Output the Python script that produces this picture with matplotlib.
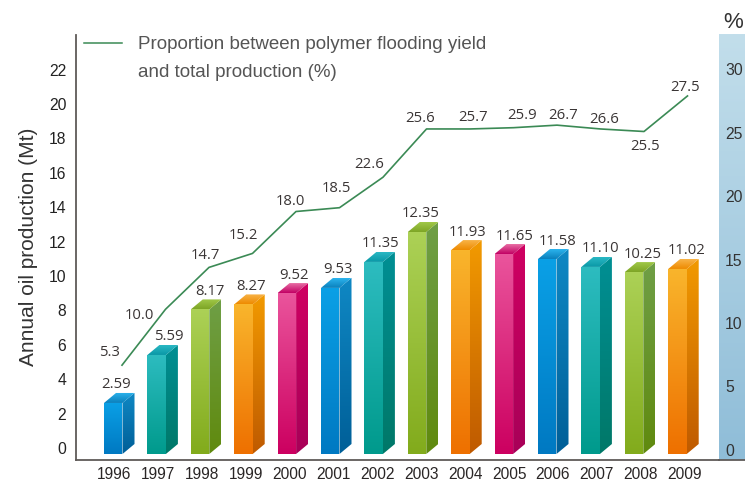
import numpy as np
import matplotlib
matplotlib.use("Agg")
import matplotlib.pyplot as plt
from matplotlib.colors import LinearSegmentedColormap
from matplotlib.patches import Polygon

W, H = 745, 481
years = list(range(1996, 2010))
oil_labels = ["2.59", "5.59", "8.17", "8.27", "9.52", "9.53", "11.35", "12.35", "11.93", "11.65", "11.58", "11.10", "10.25", "11.02"]
oil_drawn = [2.56, 5.35, 8.0, 8.29, 8.95, 9.25, 10.76, 12.5, 11.45, 11.22, 10.93, 10.47, 10.17, 10.35]
share_labels = ["5.3", "10.0", "14.7", "15.2", "18.0", "18.5", "22.6", "25.6", "25.7", "25.9", "26.7", "26.6", "25.5", "27.5"]
share_drawn = [6.6, 11.0, 14.3, 15.4, 18.7, 19.0, 21.4, 25.2, 25.2, 25.3, 25.5, 25.2, 25.0, 27.8]
left_ticks = list(range(0, 24, 2))
right_ticks = list(range(0, 35, 5))

# colour families: front top/bottom, side top/bottom, cap back/front
palette = {
    "blue": ("#0aa0e6", "#0079c2", "#0f88c4", "#005f98", "#2cb4ee", "#0a80bc"),
    "teal": ("#2dbcc0", "#009a8c", "#008f94", "#007868", "#2ab8c4", "#0a98a6"),
    "green": ("#acd156", "#82ab1c", "#6f9f46", "#608a0e", "#a0c848", "#7ea526"),
    "orange": ("#f9b52c", "#ee7000", "#f29a00", "#bf5a00", "#f8b448", "#ee8a00"),
    "magenta": ("#ea549c", "#cc0060", "#cf0062", "#a80058", "#e86ea4", "#c20064"),
}
order = ["blue", "teal", "green", "orange", "magenta"]

fig = plt.figure(figsize=(W / 100, H / 100), dpi=100, facecolor="white")
plt.rcParams["font.family"] = ["Liberation Sans", "DejaVu Sans"]


def rect(x0, x1, ytop, ybot):
    return [x0 / W, 1 - ybot / H, (x1 - x0) / W, (ybot - ytop) / H]


AX_L, AX_R, AX_T, AX_B = 76, 719, 36, 461
PX_YEAR, PX_UNIT = 43.4, 17.2
BAR0, ZERO_L = 104, 448
UNIT_R, ZERO_R = 12.7, 450

band = fig.add_axes(rect(AX_R, W, 35, AX_B), zorder=0)
band.imshow(np.linspace(0, 1, 256)[:, None], aspect="auto", extent=(0, 1, 0, 1),
            cmap=LinearSegmentedColormap.from_list("band", ["#c2deeb", "#8fbdd8"]))
band.set_xticks([]); band.set_yticks([])
for s in ("top", "left", "right"):
    band.spines[s].set_visible(False)
band.spines["bottom"].set_color("#5f5a58")
band.spines["bottom"].set_linewidth(1.3)

ax = fig.add_axes(rect(AX_L, AX_R, AX_T, AX_B), zorder=1)
ax.patch.set_visible(False)
ax.set_xlim(1996 + (AX_L - BAR0) / PX_YEAR, 1996 + (AX_R - BAR0) / PX_YEAR)
ax.set_ylim((ZERO_L - AX_B) / PX_UNIT, (ZERO_L - AX_T) / PX_UNIT)
for s in ("top", "right"):
    ax.spines[s].set_visible(False)
for s in ("left", "bottom"):
    ax.spines[s].set_color("#5f5a58")
    ax.spines[s].set_linewidth(1.3)

ax.set_yticks(left_ticks)
ax.tick_params(axis="y", length=0, pad=7, labelsize=11.3, labelcolor="#222222")
ax.set_xticks([y + (10 + 0.5 * (y - 1996)) / PX_YEAR for y in years])
ax.set_xticklabels(years)
ax.tick_params(axis="x", length=0, pad=4.5, labelsize=11.2, labelcolor="#2a2626")
ax.set_ylabel("Annual oil production (Mt)", fontsize=15, color="#333333", labelpad=0)
ax.yaxis.set_label_coords((38 - AX_L) / (AX_R - AX_L), 1 - (247 - AX_T) / (AX_B - AX_T))

w = 18.5 / PX_YEAR
dx = 12 / PX_YEAR
dy = 10 / PX_UNIT
base = (ZERO_L - 455) / PX_UNIT


def gradient(poly, c_top, c_bot):
    poly = np.array(poly)
    x0, x1, y0, y1 = poly[:, 0].min(), poly[:, 0].max(), poly[:, 1].min(), poly[:, 1].max()
    im = ax.imshow(np.linspace(0, 1, 128)[:, None], extent=(x0, x1, y0, y1), aspect="auto",
                   cmap=LinearSegmentedColormap.from_list("g", [c_top, c_bot]), zorder=2, origin="upper")
    patch = Polygon(poly, transform=ax.transData, facecolor="none", edgecolor="none")
    ax.add_patch(patch)
    im.set_clip_path(patch)


xlim, ylim = ax.get_xlim(), ax.get_ylim()
for i, (yr, v) in enumerate(zip(years, oil_drawn)):
    c = palette[order[i % 5]]
    gradient([(yr, base), (yr + w, base), (yr + w, v), (yr, v)], c[0], c[1])
    gradient([(yr + w, base), (yr + w + dx, base + dy), (yr + w + dx, v + dy), (yr + w, v)], c[2], c[3])
    gradient([(yr, v), (yr + w, v), (yr + w + dx, v + dy), (yr + dx, v + dy)], c[4], c[5])
ax.set_xlim(xlim); ax.set_ylim(ylim)

bar_dx = [12, 21, 19, 17, 16, 17, 16, 13, 16, 20, 20, 19, 18, 18]
for yr, v, lab, d in zip(years, oil_drawn, oil_labels, bar_dx):
    ax.annotate(lab, (yr, v), xytext=(d, 19), textcoords="offset pixels", ha="center", va="center",
                fontsize=10.7, family="Open Sans", color="#3a3535", zorder=5)

rax = ax.twinx()
rax.patch.set_visible(False)
rax.set_ylim((ZERO_R - AX_B) / UNIT_R, (ZERO_R - AX_T) / UNIT_R)
for s in rax.spines.values():
    s.set_visible(False)
rax.set_yticks(right_ticks)
rax.tick_params(axis="y", length=0, pad=4.3, labelsize=11.3, labelcolor="#333333")
line_x = [y + (18 + 0.1 * (y - 1996)) / PX_YEAR for y in years]
rax.plot(line_x, share_drawn, color="#3b8a55", lw=1.2, zorder=4)

line_dx = [-12, -26, -4, -9, -6, -3, -14, -6, 3, 9, 6, 4, 1, -2]
line_dy = [14, -5, 13, 19, 11, 20, 14, 11, 12, 13, 11, 10, -14, 9]
for x, v, lab, a, b in zip(line_x, share_drawn, share_labels, line_dx, line_dy):
    rax.annotate(lab, (x, v), xytext=(a, b), textcoords="offset pixels", ha="center", va="center",
                 fontsize=10.7, family="Open Sans", color="#3a3535", zorder=5)

fig.add_artist(plt.Line2D([84 / W, 122 / W], [1 - 43.5 / H] * 2, color="#3b8a55", lw=1.1))
fig.text(138 / W, 1 - 45 / H, "Proportion between polymer flooding yield", fontsize=13.5,
         color="#555555", va="center", ha="left")
fig.text(138 / W, 1 - 73 / H, "and total production (%)", fontsize=13.5,
         color="#555555", va="center", ha="left")
fig.text(733 / W, 1 - 23 / H, "%", fontsize=16, color="#333333", va="center", ha="center")

fig.savefig("out.png", dpi=100)
